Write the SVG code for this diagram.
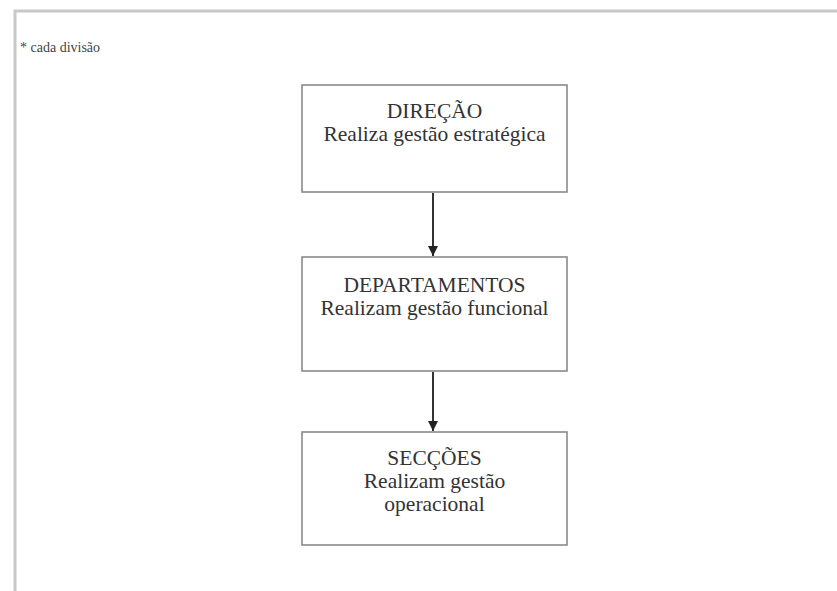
<svg xmlns="http://www.w3.org/2000/svg" width="837" height="591" viewBox="0 0 837 591">
<style>
.box{fill:#fff;stroke:#8a8a8a;stroke-width:1.6}
.t{font-family:"Liberation Serif","Times New Roman",serif;font-size:21.5px;fill:#333;text-anchor:middle}
.conn{stroke:#333;stroke-width:2;fill:none}
</style>
<defs>
<marker id="ah" viewBox="0 0 10 10" refX="10" refY="5" markerWidth="11" markerHeight="10" markerUnits="userSpaceOnUse" orient="auto"><path d="M0,0 L10,5 L0,10 z" fill="#222"/></marker>
</defs>
<rect width="837" height="591" fill="#fff"/>
<rect x="15" y="11" width="840" height="600" fill="none" stroke="#c8c8c8" stroke-width="3"/>
<text x="20" y="52" style="font-family:'Liberation Serif','Times New Roman',serif;font-size:14px;fill:#444">* cada divisão</text>
<g id="direcao">
<rect class="box" x="302" y="85" width="265" height="107"/>
<text class="t" x="434.5" y="118">DIREÇÃO</text>
<text class="t" x="434.5" y="141">Realiza gestão estratégica</text>
</g>
<g id="departamentos">
<rect class="box" x="302" y="257" width="265" height="114"/>
<text class="t" x="434.5" y="292">DEPARTAMENTOS</text>
<text class="t" x="434.5" y="315">Realizam gestão funcional</text>
</g>
<g id="seccoes">
<rect class="box" x="302" y="432" width="265" height="113"/>
<text class="t" x="434.5" y="465">SECÇÕES</text>
<text class="t" x="434.5" y="488">Realizam gestão</text>
<text class="t" x="434.5" y="511">operacional</text>
</g>
<g id="connectors">
<line class="conn" x1="433" y1="193" x2="433" y2="256" marker-end="url(#ah)"/>
<line class="conn" x1="433" y1="372" x2="433" y2="431" marker-end="url(#ah)"/>
</g>
</svg>
